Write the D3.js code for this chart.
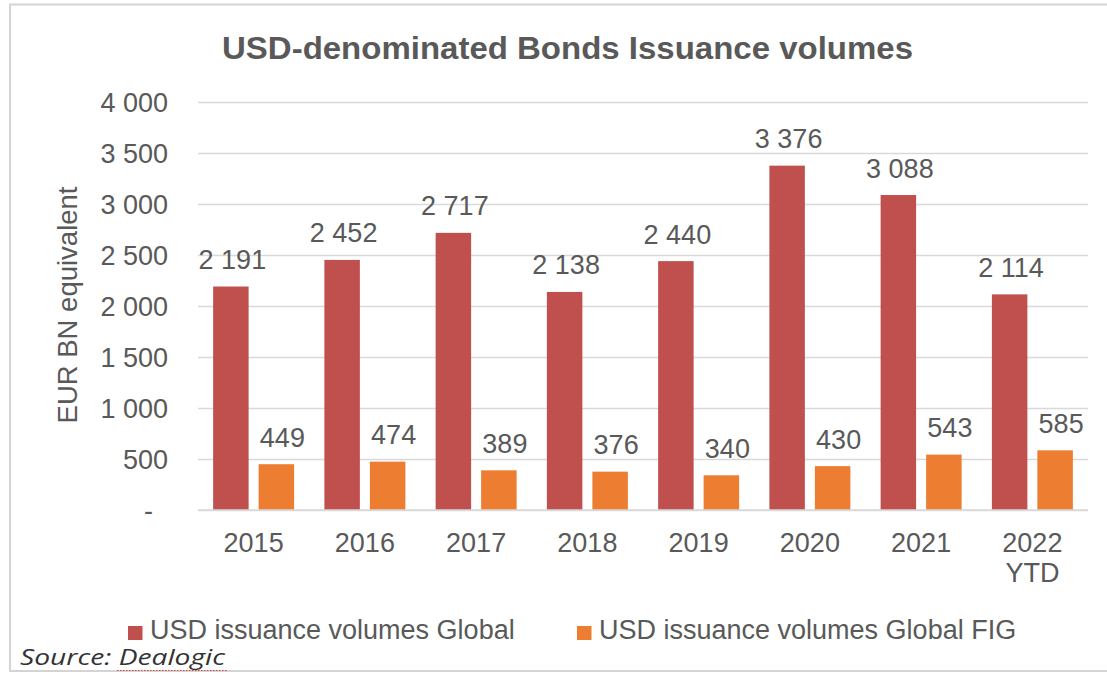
<!DOCTYPE html>
<html>
<head>
<meta charset="utf-8">
<script src="https://cdn.jsdelivr.net/npm/d3@7"></script>
<style>
  html, body { margin: 0; padding: 0; background: #fff; }
  svg { display: block; }
</style>
</head>
<body>
<svg id="chart" width="1107" height="674"></svg>
<script>
// Issuance volumes, EUR bn equivalent
const categories = ["2015", "2016", "2017", "2018", "2019", "2020", "2021", "2022 YTD"];
const seriesNames = ["USD issuance volumes Global", "USD issuance volumes Global FIG"];
const globalValues = [2191, 2452, 2717, 2138, 2440, 3376, 3088, 2114];
const figValues = [449, 474, 389, 376, 340, 430, 543, 585];
const yTicks = [0, 500, 1000, 1500, 2000, 2500, 3000, 3500, 4000];

const colors = ["#C0504D", "#ED7D31"];
const textColor = "#595959";
const gridColor = "#d9d9d9";
const font = "'Liberation Sans', Arial, sans-serif";

const rows = categories.map((c, i) => ({ category: c, values: [globalValues[i], figValues[i]] }));

const svg = d3.select("#chart");
const plot = { left: 198, right: 1088, top: 102, bottom: 510 };

// number format with a space as thousands separator
const locale = d3.formatLocale({ decimal: ".", thousands: "\u202F", grouping: [3], currency: ["", ""] });
const fmt = v => locale.format(",")(v).replace(/\u202F/g, " ");

// outer frame
svg.append("rect")
  .attr("x", 10).attr("y", 4.5)
  .attr("width", 1110).attr("height", 666.5)
  .attr("fill", "#fff")
  .attr("stroke", "#d4d4d4").attr("stroke-width", 2);

// scales
const x0 = d3.scaleBand().domain(categories).range([plot.left, plot.right]).paddingInner(0).paddingOuter(0);
const x1 = d3.scaleBand().domain([0, 1]).range([0, x0.bandwidth()]).paddingInner(0.22).paddingOuter(0.3325);
const y = d3.scaleLinear().domain([0, 4000]).range([plot.bottom, plot.top]);

// title
svg.append("text")
  .attr("x", 567.5).attr("y", 59)
  .attr("text-anchor", "middle")
  .attr("font-family", font).attr("font-weight", "bold")
  .attr("font-size", 30.5)
  .attr("fill", textColor)
  .attr("textLength", 691).attr("lengthAdjust", "spacingAndGlyphs")
  .text("USD-denominated Bonds Issuance volumes");

// gridlines and y labels via axis
const yAxis = d3.axisLeft(y)
  .tickValues(yTicks)
  .tickSize(-(plot.right - plot.left))
  .tickPadding(30)
  .tickFormat(v => v === 0 ? "-\u2007" : fmt(v));

const gy = svg.append("g")
  .attr("transform", `translate(${plot.left},0)`)
  .call(yAxis);
gy.select(".domain").remove();
gy.selectAll(".tick line").attr("stroke", gridColor).attr("stroke-width", 1.6);
gy.selectAll(".tick text")
  .attr("font-family", font).attr("font-size", 27)
  .attr("fill", textColor)
  .attr("dy", "0.36em");

// y axis title
svg.append("text")
  .attr("transform", `translate(77,305) rotate(-90)`)
  .attr("text-anchor", "middle")
  .attr("font-family", font).attr("font-size", 27.5)
  .attr("fill", textColor)
  .text("EUR BN equivalent");

// bars
const groups = svg.append("g").selectAll("g")
  .data(rows).join("g")
  .attr("transform", d => `translate(${x0(d.category)},0)`);

groups.selectAll("rect")
  .data(d => d.values.map((v, i) => ({ v, i })))
  .join("rect")
  .attr("x", d => x1(d.i))
  .attr("width", x1.bandwidth())
  .attr("y", d => y(d.v))
  .attr("height", d => y(0) - y(d.v))
  .attr("fill", d => colors[d.i]);

// value labels
groups.selectAll("text.val")
  .data(d => d.values.map((v, i) => ({ v, i })))
  .join("text")
  .attr("class", "val")
  .attr("x", d => x1(d.i) + x1.bandwidth() / 2 + (d.i === 1 ? 6 : 1.5))
  .attr("y", d => y(d.v) - 17.5)
  .attr("text-anchor", "middle")
  .attr("font-family", font).attr("font-size", 27)
  .attr("fill", textColor)
  .text(d => fmt(d.v));

// x axis baseline
svg.append("line")
  .attr("x1", plot.left).attr("x2", plot.right)
  .attr("y1", y(0)).attr("y2", y(0))
  .attr("stroke", gridColor).attr("stroke-width", 1.6);

// category labels
const xl = svg.append("g").selectAll("text")
  .data(categories).join("text")
  .attr("x", d => x0(d) + x0.bandwidth() / 2)
  .attr("y", 552)
  .attr("text-anchor", "middle")
  .attr("font-family", font).attr("font-size", 27)
  .attr("fill", textColor);
xl.selectAll("tspan")
  .data(d => d.split(" "))
  .join("tspan")
  .attr("x", function () { return d3.select(this.parentNode).attr("x"); })
  .attr("dy", (d, i) => i === 0 ? 0 : 30)
  .text(d => d);

// legend
const legendX = [128, 577];
const legend = svg.append("g").selectAll("g")
  .data(seriesNames).join("g")
  .attr("transform", (d, i) => `translate(${legendX[i]},626)`);
legend.append("rect")
  .attr("width", 14.5).attr("height", 14)
  .attr("fill", (d, i) => colors[i]);
legend.append("text")
  .attr("x", 22).attr("y", 12.5)
  .attr("font-family", font).attr("font-size", 27)
  .attr("fill", textColor)
  .text(d => d);

// source note
const src = svg.append("text")
  .attr("x", 20).attr("y", 665)
  .attr("font-family", "'Open Sans', 'Noto Sans', sans-serif")
  .attr("font-style", "italic")
  .attr("font-size", 21)
  .attr("fill", "#333")
  .attr("textLength", 205).attr("lengthAdjust", "spacingAndGlyphs");
src.append("tspan").text("Source: ");
src.append("tspan").text("Dealogic");

// dotted underline under the source name
svg.append("line")
  .attr("x1", 117).attr("x2", 227)
  .attr("y1", 670.5).attr("y2", 670.5)
  .attr("stroke", "#e0403a").attr("stroke-width", 1.2)
  .attr("stroke-dasharray", "1.5,1.5");
</script>
</body>
</html>
